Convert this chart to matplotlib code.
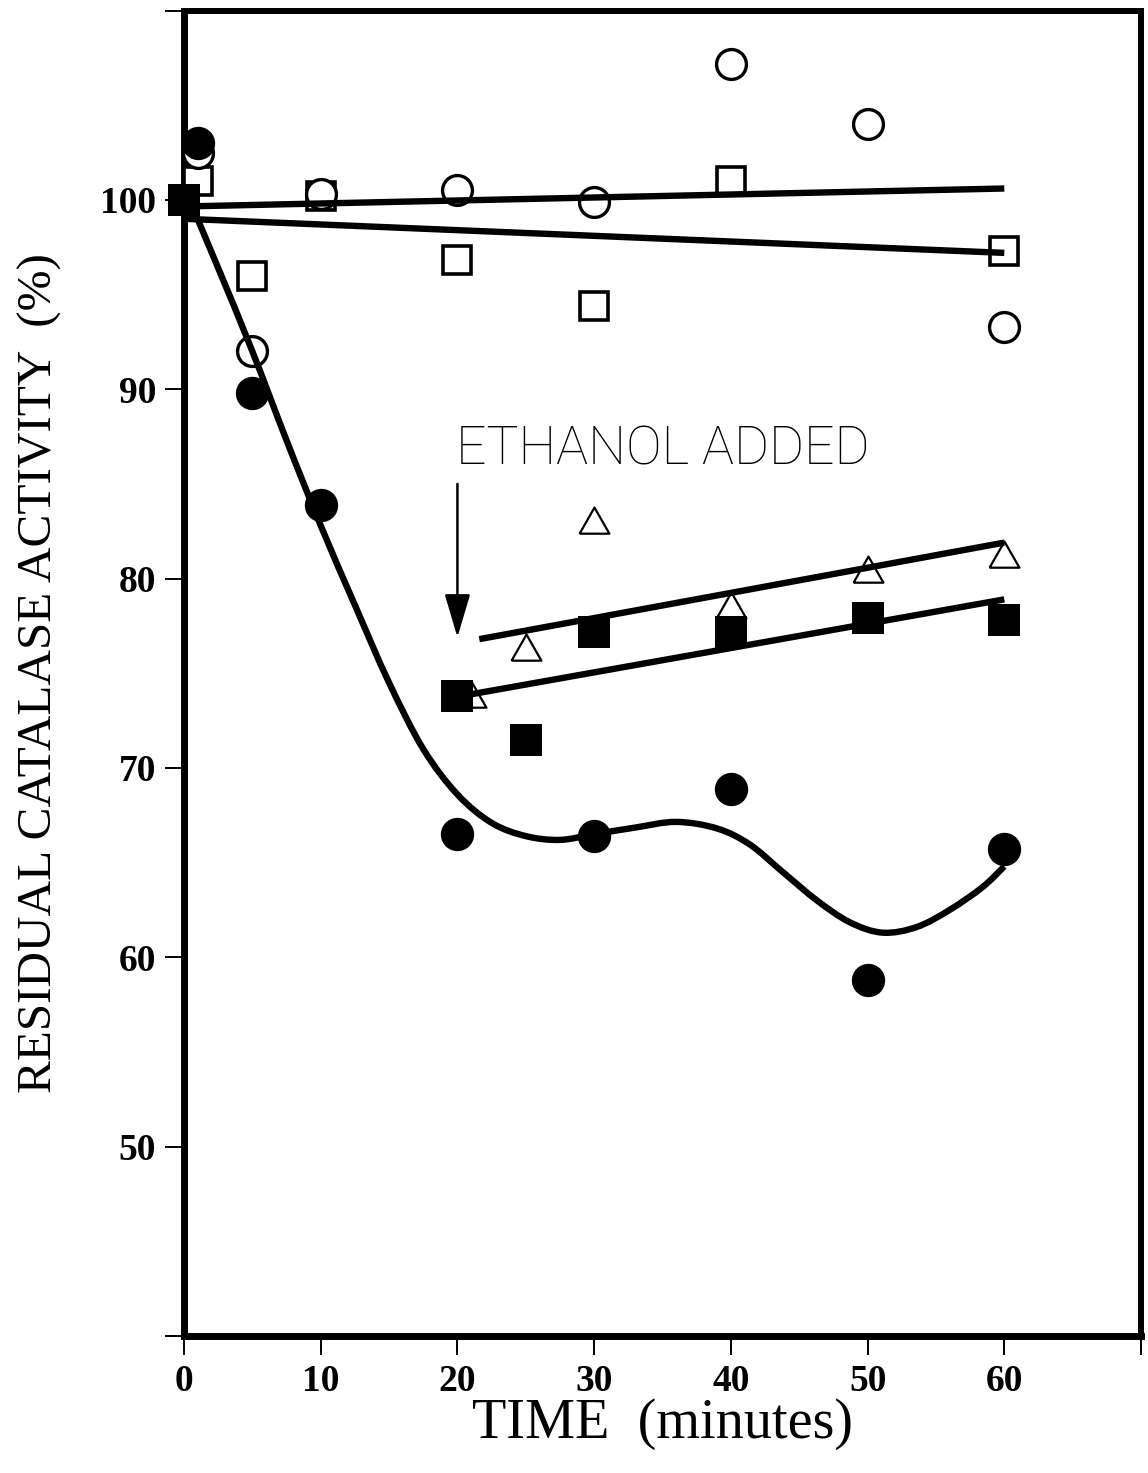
import matplotlib

matplotlib.use("Agg")
import matplotlib.pyplot as plt
from matplotlib.patches import PathPatch
from matplotlib.path import Path


# enzyme alone (open circles)
open_circle_t = [1, 5, 10, 20, 30, 40, 50, 60]
open_circle_act = [102.5, 92.0, 100.3, 100.5, 99.9, 107.2, 104.0, 93.3]

# open squares
open_square_t = [1, 5, 10, 20, 30, 40, 60]
open_square_act = [101.0, 96.0, 100.2, 96.8, 94.4, 101.0, 97.3]

# filled circles
filled_circle_t = [1, 5, 10, 20, 30, 40, 50, 60]
filled_circle_act = [103.0, 89.8, 83.9, 66.5, 66.4, 68.9, 58.8, 65.7]

# filled squares (ethanol added at 20 min)
filled_square_t = [0, 20, 25, 30, 40, 50, 60]
filled_square_act = [100.0, 73.8, 71.5, 77.2, 77.2, 77.9, 77.8]

# open triangles
triangle_t = [21, 25, 30, 40, 50, 60]
triangle_act = [73.8, 76.3, 83.0, 78.5, 80.4, 81.2]

# straight fitted lines: (start, end)
line_circle_t = [0, 60]
line_circle_act = [99.65, 100.6]
line_square_t = [0, 60]
line_square_act = [99.0, 97.2]
line_triangle_t = [21.6, 60]
line_triangle_act = [76.8, 81.9]
line_fsquare_t = [20.3, 60]
line_fsquare_act = [73.8, 78.9]

# hand-drawn curve through the filled circles (knots)
curve_t = [0.4, 2.5, 5.0, 7.5, 10.0, 12.5, 15.0, 17.5, 20.0, 22.5, 25.0,
           27.5, 30.0, 33.0, 36.0, 39.0, 41.4, 43.8, 46.3, 48.7, 51.1, 53.6,
           56.0, 58.4, 60.0]
curve_act = [100.0, 96.4, 92.0, 87.3, 82.8, 78.6, 74.5, 71.0, 68.6, 67.1,
             66.4, 66.2, 66.5, 66.85, 67.15, 66.8, 65.95, 64.5, 63.0, 61.85,
             61.3, 61.6, 62.5, 63.7, 64.8]

x_ticks = [0, 10, 20, 30, 40, 50, 60, 70]
x_tick_labels = ["0", "10", "20", "30", "40", "50", "60", ""]
y_ticks = [40, 50, 60, 70, 80, 90, 100, 110]
y_tick_labels = ["", "50", "60", "70", "80", "90", "100", ""]

SERIF = ["Liberation Serif", "DejaVu Serif"]
TRIANGLE = [(-1, -0.75), (1, -0.75), (0, 1.0), (-1, -0.75)]


def smooth_path(xs, ys):
    # Catmull-Rom knots turned into cubic Bezier segments
    pts = list(zip(xs, ys))
    verts = [pts[0]]
    codes = [Path.MOVETO]
    for i in range(len(pts) - 1):
        p0 = pts[max(i - 1, 0)]
        p1 = pts[i]
        p2 = pts[i + 1]
        p3 = pts[min(i + 2, len(pts) - 1)]
        c1 = (p1[0] + (p2[0] - p0[0]) / 6, p1[1] + (p2[1] - p0[1]) / 6)
        c2 = (p2[0] - (p3[0] - p1[0]) / 6, p2[1] - (p3[1] - p1[1]) / 6)
        verts += [c1, c2, p2]
        codes += [Path.CURVE4] * 3
    return Path(verts, codes)


def main():
    fig = plt.figure(figsize=(11.48, 14.73), dpi=100)
    ax = fig.add_axes([184 / 1148, 1 - 1336 / 1473, 957 / 1148, 1325.5 / 1473])

    lw = 4.6
    for xs, ys in [
        (line_circle_t, line_circle_act),
        (line_square_t, line_square_act),
        (line_triangle_t, line_triangle_act),
        (line_fsquare_t, line_fsquare_act),
    ]:
        ax.plot(xs, ys, color="black", lw=lw, solid_capstyle="butt", zorder=5)
    ax.add_patch(PathPatch(smooth_path(curve_t, curve_act), fill=False,
                           edgecolor="black", lw=lw, capstyle="butt", zorder=5))

    ax.plot(open_square_t, open_square_act, ls="none", marker="s", ms=20.5,
            mfc="white", mec="black", mew=2.6, zorder=3, clip_on=False)
    ax.plot(open_circle_t, open_circle_act, ls="none", marker="o", ms=21.5,
            mfc="white", mec="black", mew=2.4, zorder=3, clip_on=False)
    ax.plot(triangle_t, triangle_act, ls="none", marker=TRIANGLE, ms=21.5,
            mfc="white", mec="black", mew=1.6, zorder=3)
    ax.plot(filled_circle_t, filled_circle_act, ls="none", marker="o", ms=24,
            mfc="black", mec="black", mew=0, zorder=4, clip_on=False)
    ax.plot(filled_square_t, filled_square_act, ls="none", marker="s", ms=23.5,
            mfc="black", mec="black", mew=0, zorder=4, clip_on=False)

    # ethanol addition marker
    ax.annotate(
        "", xy=(20, 76.9), xytext=(20, 85.0),
        arrowprops=dict(arrowstyle="-|>,head_length=2.7,head_width=0.8",
                        color="black", lw=1.8, shrinkA=0, shrinkB=0,
                        mutation_scale=10),
    )
    ax.text(19.9, 86.0, "ETHANOL ADDED", ha="left", va="baseline",
            fontsize=38.5, family=["Roboto", "DejaVu Sans"], fontweight="light")

    ax.set_xlim(0, 70)
    ax.set_ylim(40, 110)
    ax.set_xticks(x_ticks)
    ax.set_xticklabels(x_tick_labels)
    ax.set_yticks(y_ticks)
    ax.set_yticklabels(y_tick_labels)
    for label in ax.get_xticklabels() + ax.get_yticklabels():
        label.set_family(SERIF)
        label.set_fontweight("bold")
        label.set_fontsize(27)
    ax.tick_params(direction="out", length=14, width=1.4, color="black", pad=6)

    for side in ["left", "bottom"]:
        ax.spines[side].set_linewidth(5)
    for side in ["top", "right"]:
        ax.spines[side].set_linewidth(4.3)

    ax.set_xlabel("TIME  (minutes)", family=SERIF, fontsize=40.5)
    ax.xaxis.set_label_coords(0.5, -0.047)
    ax.xaxis.label.set_va("top")
    ax.set_ylabel("RESIDUAL CATALASE ACTIVITY  (%)", family=SERIF, fontsize=35.5)
    ax.yaxis.set_label_coords(-0.128, 0.5)

    fig.savefig("out.png", dpi=100)


if __name__ == "__main__":
    main()
